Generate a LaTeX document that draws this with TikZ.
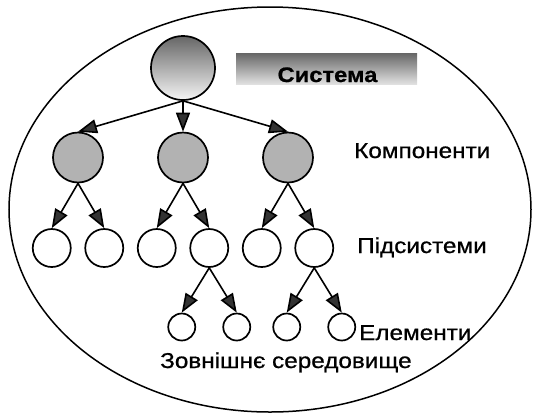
\documentclass[tikz,border=0pt]{standalone}
\usepackage{fontspec}
\setmainfont{Liberation Sans}
\newfontfamily\lblfont{Liberation Sans}[FakeStretch=1.13, FakeBold=0.8]
\usetikzlibrary{arrows.meta, positioning, trees}

\begin{document}
\begin{tikzpicture}[
	x=1pt, y=-1pt,
	unit/.style={draw, circle, line width=1.7pt, inner sep=0pt},
	sysnode/.style={unit, minimum size=64pt, top color=black!60, bottom color=black!4},
	compnode/.style={unit, minimum size=50pt, fill=black!30},
	subnode/.style={unit, minimum size=38pt, fill=white},
	elemnode/.style={unit, minimum size=27pt, fill=white},
	lbl/.style={inner sep=0pt, font=\lblfont\fontsize{21.5}{25}\selectfont, anchor=base west},
	edge from parent/.style={draw, line width=1.6pt, -{Triangle[length=19pt, width=14pt, fill=black!80]}},
	edge from parent path={(\tikzparentnode.south) -- (\tikzchildnode.north)},
	level 1/.style={level distance=89.5pt, sibling distance=105pt},
	level 2/.style={level distance=90.5pt, sibling distance=52.5pt, xshift=-2pt},
	level 3/.style={level distance=79pt, sibling distance=55pt, xshift=-3pt},
	]
	\useasboundingbox (0,0) rectangle (536,416);
	
	% Environment around the system
	\draw[line width=1.5pt] (270,209.5) ellipse [x radius=261, y radius=202.5];
	
	% Shaded title box
	\node (sysbox) at (326.5,68.5) [minimum width=181pt, minimum height=31pt, inner sep=0pt, top color=black!60, bottom color=black!12] {};
	\node[lbl, anchor=base, font=\lblfont\bfseries\fontsize{21}{24}\selectfont] (syslbl) at (327.5,82) {Система};
	
	% Hierarchy of the system
	\node[sysnode] (sys) at (183,68) {}
	child {node[compnode] (comp1) {}
		child {node[subnode] (sub1) {}}
		child {node[subnode] (sub2) {}}
	}
	child {node[compnode] (comp2) {}
		child {node[subnode] (sub3) {}}
		child {node[subnode] (sub4) {}
			child {node[elemnode] (elem1) {}}
			child {node[elemnode] (elem2) {}}
		}
	}
	child {node[compnode] (comp3) {}
		child {node[subnode] (sub5) {}}
		child {node[subnode] (sub6) {}
			child {node[elemnode] (elem3) {}}
			child {node[elemnode] (elem4) {}}
		}
	};
	
	% Level labels
	\node[lbl] (complbl) at (354,158) {Компоненти};
	\node[lbl] (sublbl) at (357,253) {Підсистеми};
	\node[lbl] (elemlbl) at (359,340) {Елементи};
	\node[lbl] (envlbl) at (160,368) {Зовнішнє середовище};
	
\end{tikzpicture}
\end{document}
